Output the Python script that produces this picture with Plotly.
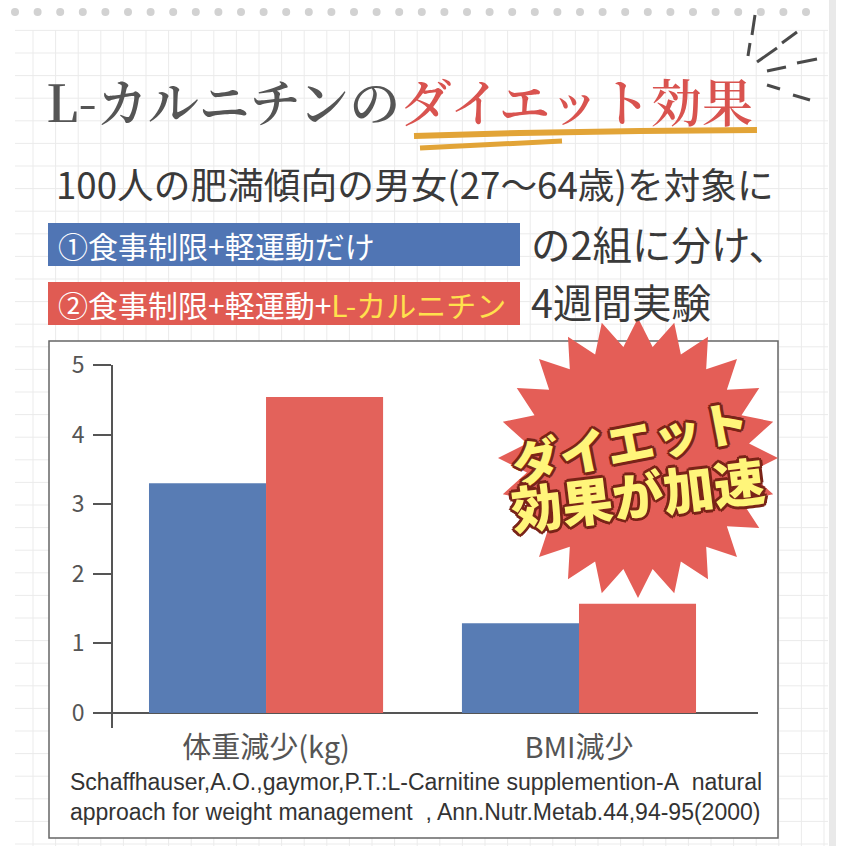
import numpy as np
import plotly.graph_objects as go

W = H = 846

# ---- data ----
categories = ["体重減少(kg)", "BMI減少"]
diet_only = [3.30, 1.29]          # ①食事制限+軽運動だけ
diet_carnitine = [4.54, 1.57]     # ②食事制限+軽運動+L-カルニチン
y_ticks = [0, 1, 2, 3, 4, 5]
series_names = ["①食事制限+軽運動だけ", "②食事制限+軽運動+L-カルニチン"]

BLUE = "#587cb4"
RED = "#e3625b"
JP = "Noto Sans CJK JP"


def fx(p):
    return p / W


def fy(p):
    return 1 - p / H


fig = go.Figure()
fig.add_trace(go.Bar(x=categories, y=diet_only, name=series_names[0],
                     marker=dict(color=BLUE, line_width=0), showlegend=False,
                     hoverinfo="skip"))
fig.add_trace(go.Bar(x=categories, y=diet_carnitine, name=series_names[1],
                     marker=dict(color=RED, line_width=0), showlegend=False,
                     hoverinfo="skip"))

shapes = []
# grid paper
for gx in np.arange(33, 828, 22.6):
    shapes.append(dict(type="line", xref="paper", yref="paper", layer="below",
                       x0=fx(gx), x1=fx(gx), y0=fy(30), y1=fy(846),
                       line=dict(color="#ebebeb", width=1)))
for gy in np.arange(30.4, 846, 22.6):
    shapes.append(dict(type="line", xref="paper", yref="paper", layer="below",
                       x0=fx(15), x1=fx(828), y0=fy(gy), y1=fy(gy),
                       line=dict(color="#ebebeb", width=1)))
# paper edge shadow
shapes.append(dict(type="rect", xref="paper", yref="paper", layer="below",
                   x0=fx(829), x1=fx(836), y0=fy(0), y1=fy(846),
                   fillcolor="#e9e9e9", line_width=0))
# ring holes
for rx in np.arange(15, 826, 22.6):
    shapes.append(dict(type="circle", xref="paper", yref="paper", layer="below",
                       x0=fx(rx - 4), x1=fx(rx + 4), y0=fy(8), y1=fy(16),
                       fillcolor="#d2d2d2", line_width=0))
# chart box
shapes.append(dict(type="rect", xref="paper", yref="paper", layer="below",
                   x0=fx(49), x1=fx(778), y0=fy(341), y1=fy(838),
                   fillcolor="white", line=dict(color="#666666", width=1.5)))
# group boxes
shapes.append(dict(type="rect", xref="paper", yref="paper", layer="below",
                   x0=fx(48), x1=fx(520), y0=fy(223), y1=fy(266),
                   fillcolor="#5075b4", line_width=0))
shapes.append(dict(type="rect", xref="paper", yref="paper", layer="below",
                   x0=fx(48), x1=fx(520), y0=fy(282), y1=fy(325),
                   fillcolor="#e05b53", line_width=0))


def path(pts):
    return "M " + " L ".join(f"{fx(a):.5f},{fy(b):.5f}" for a, b in pts)


# orange underline strokes
shapes.append(dict(type="path", xref="paper", yref="paper", layer="below",
                   path=path([(414, 136), (520, 133), (640, 131), (757, 130)]),
                   line=dict(color="#e2a437", width=6)))
shapes.append(dict(type="path", xref="paper", yref="paper", layer="below",
                   path=path([(420, 148), (480, 145), (562, 141)]),
                   line=dict(color="#e2a437", width=5)))
# emphasis strokes
for seg in [[(755, 15), (752, 35)], [(750, 43), (748, 56)],
            [(797, 32), (782, 43)], [(777, 48), (757, 62)],
            [(817, 59), (797, 63)], [(786, 67), (767, 71)],
            [(767, 85), (780, 89)], [(793, 95), (810, 100)]]:
    shapes.append(dict(type="path", xref="paper", yref="paper", layer="below",
                       path=path(seg), line=dict(color="#4a4a4a", width=3)))

# starburst
cx, cy, r_out, r_in, n = 638, 458, 140, 112, 24
ang = np.linspace(0, 2 * np.pi, 2 * n, endpoint=False) - np.pi / 2
rad = np.where(np.arange(2 * n) % 2 == 0, r_out, r_in)
pts = list(zip(cx + rad * np.cos(ang), cy + rad * np.sin(ang)))
shapes.append(dict(type="path", xref="paper", yref="paper", layer="above",
                   path=path(pts) + " Z", fillcolor="#e45e57", line_width=0))

annotations = []


def ann(text, x, y, size, color, xanchor="left", family=JP, weight=None,
        angle=0, shadow=None):
    f = dict(family=family, size=size, color=color)
    if weight:
        f["weight"] = weight
    if shadow:
        f["shadow"] = shadow
    annotations.append(dict(text=text, x=fx(x), y=fy(y), xref="paper", yref="paper",
                            xanchor=xanchor, yanchor="middle", showarrow=False,
                            font=f, textangle=angle, borderpad=0))


ann("L-カルニチンの<span style='color:#d9534f'>ダイエット効果</span>", 45, 100, 51,
    "#555555", family="Noto Serif CJK JP, Noto Sans CJK JP", weight=600)
ann("100人の肥満傾向の男女(27〜64歳)を対象に", 55, 183, 36.7, "#3a3a3a")
ann(series_names[0], 57, 245, 30, "white")
ann("②食事制限+軽運動+<span style='color:#ffe14d'>L-カルニチン</span>", 57, 304, 30, "white")
ann("の2組に分け、", 530, 242, 39.5, "#3a3a3a")
ann("4週間実験", 530, 300, 39.5, "#3a3a3a")

outline = ",".join(f"{dx}px {dy}px 0 #7a2418" for dx, dy in
                   [(2, 2), (-2, -2), (2, -2), (-2, 2), (3, 0), (-3, 0), (0, 3), (0, -3)])
ann("ダイエット", 630, 440, 48, "#fff57a", xanchor="center", weight=900, angle=-11,
    shadow=outline)
ann("効果が加速", 637, 493, 51, "#fff57a", xanchor="center", weight=900, angle=-7,
    shadow=outline)

cite_font = "Liberation Sans Narrow, Liberation Sans"
ann("Schaffhauser,A.O.,gaymor,P.T.:L-Carnitine supplemention-A&nbsp;&nbsp;natural",
    69, 782, 23, "#333333", family=cite_font)
ann("approach for weight management&nbsp;&nbsp;, Ann.Nutr.Metab.44,94-95(2000)",
    69, 812, 23, "#333333", family=cite_font)

fig.update_layout(
    width=W, height=H, margin=dict(l=0, r=0, t=0, b=0, pad=0, autoexpand=False),
    paper_bgcolor="white", plot_bgcolor="rgba(0,0,0,0)",
    barmode="group", bargap=0.252, bargroupgap=0,
    shapes=shapes, annotations=annotations,
    xaxis=dict(domain=[fx(113), fx(758)], range=[-0.489, 1.572], type="category",
               showline=False, ticks="", showgrid=False, zeroline=False,
               automargin=False,
               tickfont=dict(family=JP, size=29, color="#555555")),
    yaxis=dict(domain=[fy(728), fy(365)], range=[-0.2155, 5], tickvals=y_ticks,
               ticks="outside", ticklen=18, tickwidth=2, tickcolor="#555555",
               showline=True, linecolor="#555555", linewidth=2,
               zeroline=True, zerolinecolor="#555555", zerolinewidth=2,
               showgrid=False, ticklabelstandoff=4, automargin=False,
               tickfont=dict(family=JP, size=23, color="#555555")),
    font=dict(family=JP),
)

fig.write_html("out.html", config={"displayModeBar": False},
               post_script="document.body.style.margin='0';document.body.style.overflow='hidden';")
